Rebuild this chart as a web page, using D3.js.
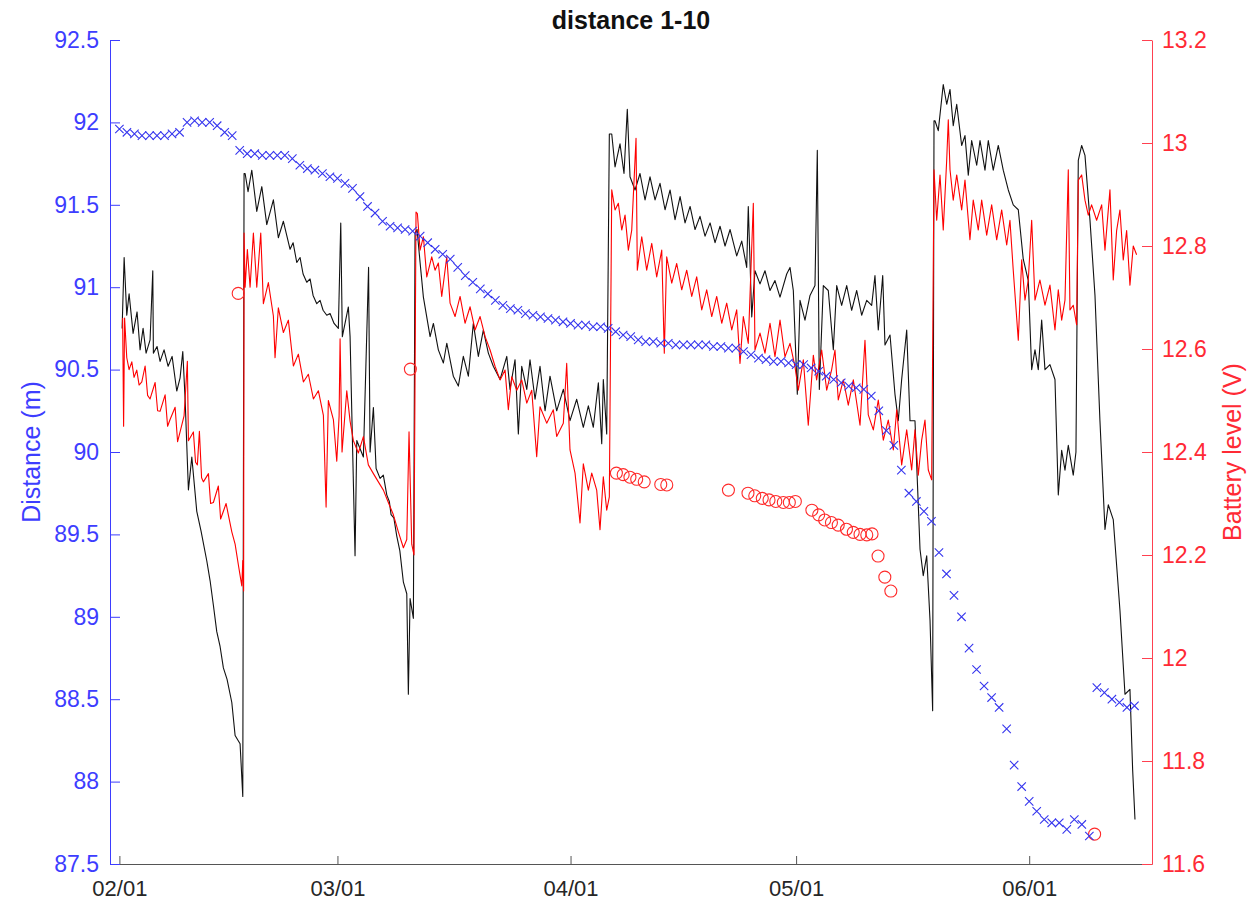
<!DOCTYPE html>
<html>
<head>
<meta charset="utf-8">
<script src="https://cdn.jsdelivr.net/npm/d3@7"></script>
<style>
  html, body { margin: 0; padding: 0; background: #ffffff; }
  svg { display: block; font-family: "Liberation Sans", Arial, Helvetica, sans-serif; }
</style>
</head>
<body>
<svg id="chart" width="1255" height="905"></svg>
<script>
// ---- data -------------------------------------------------------------
// Times are days since 2020-02-01 00:00 UTC.
const startDay = Date.UTC(2020, 1, 1);

// Measured distance (m), high-rate record
const distanceTrace = [
  [0.36,90.75],[0.63,91.18],[0.98,90.83],[1.29,90.96],[1.82,90.72],[2.35,90.85],[2.75,90.62],[3.15,90.75],
  [3.55,90.60],[4.08,90.68],[4.44,91.10],[4.52,90.60],[5.01,90.64],[5.41,90.55],[5.94,90.62],[6.48,90.52],
  [7.01,90.58],[7.63,90.37],[8.07,90.45],[8.43,90.61],[8.74,90.32],[9.18,89.77],[9.63,89.97],[10.29,89.64],
  [10.86,89.52],[11.62,89.34],[12.06,89.22],[12.50,89.07],[12.95,88.91],[13.39,88.82],[13.83,88.69],[14.32,88.62],
  [14.95,88.48],[15.39,88.28],[16.05,88.23],[16.41,87.91],[16.58,91.69],
  [16.72,91.69],[17.11,91.58],[17.61,91.71],[18.27,91.46],[18.94,91.61],[19.60,91.38],[20.48,91.53],[21.14,91.30],
  [21.81,91.40],[22.70,91.23],[23.10,91.27],[23.59,91.15],[24.03,91.18],[24.43,91.08],[24.92,91.03],[25.36,91.05],
  [25.76,90.95],[26.25,90.90],[26.69,90.92],[27.09,90.86],[27.58,90.83],[28.02,90.84],[28.55,90.78],[29.12,90.75],
  [29.44,91.39],[29.65,90.70],[30.45,90.88],[30.68,90.70],[31.34,89.37],[31.57,90.07],[32.45,89.97],[33.14,91.12],
  [33.34,90.00],[33.78,90.27],[34.14,89.90],[34.67,89.84],[35.10,89.86],[35.56,89.74],[35.90,89.70],[36.13,89.62],
  [36.50,89.60],[36.89,89.49],[37.30,89.40],[37.77,89.21],[38.22,89.14],[38.43,88.53],[38.66,89.11],[39.10,88.99],
  [39.32,91.33],
  [39.59,91.35],[39.99,91.15],[40.43,90.94],[41.32,90.70],[41.76,90.78],[42.42,90.62],[43.09,90.54],[43.54,90.66],
  [44.41,90.46],[45.08,90.40],[45.74,90.58],[46.41,90.46],[47.07,90.78],[47.74,90.58],[48.40,90.74],[49.07,90.60],
  [49.73,90.52],[50.63,90.44],[51.52,90.58],[51.95,90.38],[52.62,90.56],[53.06,90.11],[53.51,90.52],[54.18,90.38],
  [54.61,90.56],[55.28,90.32],[55.94,90.52],[56.61,90.25],[57.27,90.46],[58.16,90.25],[59.04,90.38],[59.93,90.19],
  [60.82,90.32],[61.70,90.15],[62.37,90.28],[63.03,90.15],[63.70,90.42],[64.15,90.05],[64.36,90.44],[64.81,90.11],
  [65.16,91.93],
  [65.48,91.93],[65.92,91.73],[66.58,91.87],[67.11,91.69],[67.55,92.08],[67.91,91.67],[68.58,91.59],[69.24,91.69],
  [69.91,91.53],[70.57,91.67],[71.24,91.53],[71.90,91.63],[72.57,91.47],[73.24,91.59],[73.90,91.41],[74.57,91.55],
  [75.23,91.39],[75.90,91.49],[76.56,91.35],[77.22,91.43],[77.89,91.31],[78.56,91.39],[79.22,91.27],[79.88,91.37],
  [80.55,91.25],[81.22,91.35],[82.10,91.19],[82.77,91.28],[83.43,91.12],[83.64,91.49],[84.10,90.82],[84.53,91.10],
  [85.20,91.02],[85.86,91.10],[86.53,90.98],[87.19,91.04],[87.86,90.94],[88.75,91.08],[89.19,91.12],[89.63,90.98],
  [90.16,90.35],[90.52,90.92],[91.18,90.80],[91.85,90.95],[92.51,91.01],[92.82,91.83],[93.09,90.38],[93.62,91.01],
  [94.28,90.98],[94.95,90.62],[95.40,91.01],[96.06,90.89],[96.73,91.01],[97.39,90.86],[98.06,90.98],[98.72,90.83],
  [99.39,90.92],[100.05,90.89],[100.49,91.07],[100.93,90.74],[101.52,91.07],[101.82,90.65],[102.49,90.71],[103.15,90.35],
  [103.59,90.19],[104.04,90.44],[104.71,90.74],[105.15,90.19],[105.81,90.19],[106.48,89.41],[106.91,89.25],[107.37,89.37],
  [107.81,88.98],[108.16,88.43],[108.34,92.01],
  [108.47,92.01],[108.91,91.95],[109.57,92.23],[110.03,92.11],[110.47,92.20],[110.90,91.98],[111.36,92.11],[112.02,91.86],
  [112.46,91.92],[112.90,91.68],[113.35,91.89],[114.02,91.74],[114.46,91.89],[115.12,91.71],[115.56,91.89],[116.22,91.71],
  [116.89,91.86],[117.55,91.71],[118.22,91.59],[118.88,91.50],[119.55,91.47],[120.21,91.17],[120.88,91.04],[121.33,90.50],
  [121.77,90.62],[122.21,90.50],[122.66,90.80],[123.10,90.50],[123.76,90.53],[124.43,90.44],[124.87,89.74],[125.32,90.01],
  [125.76,89.89],[126.20,90.04],[126.86,89.86],[127.22,90.00],[127.53,91.77],[127.98,91.86],[128.42,91.80],[129.08,91.41],
  [129.75,90.95],[130.41,90.19],[131.08,89.53],[131.52,89.68],[132.18,89.59],[133.07,89.04],[133.74,88.53],[134.40,88.56],
  [134.76,88.07],[135.07,87.77]
];

// Battery voltage (V), high-rate record
const batteryTrace = [
  [0.43,12.66],[0.56,12.45],[0.69,12.66],[0.98,12.583],[1.29,12.56],[1.65,12.575],[1.95,12.545],[2.31,12.559],
  [2.62,12.53],[2.98,12.536],[3.42,12.567],[3.75,12.51],[4.08,12.503],[4.75,12.535],[5.08,12.48],[5.41,12.479],
  [6.08,12.511],[6.41,12.45],[6.74,12.463],[7.41,12.487],[7.74,12.42],[8.07,12.439],[8.60,12.47],[9.04,12.576],
  [9.18,12.422],[9.84,12.439],[10.13,12.38],[10.37,12.375],[10.64,12.44],[10.93,12.35],[11.17,12.342],[11.84,12.358],
  [12.13,12.30],[12.50,12.302],[13.16,12.334],[13.46,12.27],[13.83,12.285],[14.19,12.30],[14.49,12.278],[14.95,12.245],
  [15.39,12.221],[15.82,12.181],[16.28,12.14],[16.41,12.189],[16.52,12.13],[16.58,12.825],
  [16.72,12.72],[17.02,12.793],[17.38,12.72],[17.82,12.825],[18.27,12.72],[18.80,12.825],[19.15,12.688],[19.81,12.729],
  [20.48,12.664],[20.70,12.583],[21.14,12.68],[21.81,12.632],[22.47,12.656],[23.14,12.567],[23.80,12.59],[24.47,12.536],
  [25.13,12.551],[25.80,12.503],[26.46,12.519],[27.13,12.471],[27.49,12.293],[27.79,12.50],[28.46,12.463],[28.91,12.382],
  [29.22,12.47],[29.35,12.62],[29.61,12.40],[30.24,12.519],[30.68,12.46],[31.12,12.422],[31.78,12.398],[32.45,12.43],
  [33.11,12.375],[33.78,12.358],[34.44,12.342],[35.11,12.326],[35.77,12.302],[36.44,12.278],[37.10,12.245],[37.77,12.214],
  [38.22,12.23],[38.52,12.439],[38.88,12.221],[39.18,12.20],[39.45,12.866],
  [39.63,12.863],[39.99,12.792],[40.43,12.818],[40.88,12.74],[41.54,12.779],[41.98,12.753],[42.42,12.767],[42.87,12.702],
  [43.54,12.779],[43.98,12.689],[44.64,12.663],[45.31,12.702],[45.97,12.65],[46.64,12.682],[47.30,12.637],[47.97,12.663],
  [48.64,12.624],[49.30,12.598],[49.97,12.566],[50.63,12.54],[51.29,12.559],[51.73,12.482],[52.18,12.546],[52.85,12.52],
  [53.51,12.54],[54.18,12.495],[54.84,12.52],[55.50,12.391],[55.94,12.488],[56.83,12.456],[57.71,12.482],[58.16,12.43],
  [59.04,12.456],[59.49,12.572],[59.93,12.404],[60.60,12.359],[61.26,12.262],[61.70,12.377],[62.37,12.326],[62.82,12.359],
  [63.48,12.326],[63.92,12.249],[64.36,12.352],[64.81,12.287],[65.16,12.313],[65.48,12.909],
  [65.92,12.87],[66.36,12.883],[66.81,12.831],[67.25,12.86],[67.69,12.792],[68.14,12.831],[68.71,13.009],[68.88,12.753],
  [69.47,12.818],[70.13,12.753],[70.80,12.805],[71.46,12.74],[72.13,12.792],[72.47,12.592],[72.79,12.779],[73.46,12.728],
  [74.12,12.766],[74.79,12.715],[75.45,12.753],[76.12,12.702],[76.78,12.74],[77.45,12.676],[78.11,12.715],[78.78,12.663],
  [79.44,12.702],[80.11,12.65],[80.77,12.689],[81.44,12.637],[82.10,12.676],[82.54,12.572],[82.98,12.663],[83.64,12.611],
  [84.31,12.883],[84.53,12.598],[85.20,12.631],[85.86,12.592],[86.53,12.65],[87.19,12.585],[87.86,12.656],[88.52,12.585],
  [89.19,12.611],[89.85,12.566],[90.29,12.52],[90.96,12.579],[91.62,12.452],[92.29,12.588],[92.73,12.54],[93.40,12.598],
  [94.07,12.52],[94.73,12.56],[95.17,12.598],[95.61,12.501],[96.28,12.54],[96.94,12.491],[97.61,12.54],[98.50,12.452],
  [99.16,12.617],[99.60,12.472],[100.27,12.443],[100.93,12.501],[101.60,12.423],[102.26,12.462],[102.93,12.404],[103.38,12.482],
  [104.04,12.375],[104.71,12.443],[105.37,12.365],[105.81,12.443],[106.25,12.355],[106.70,12.423],[107.14,12.462],[107.58,12.365],
  [108.03,12.346],[108.34,12.948],
  [108.70,12.85],[109.14,12.938],[109.57,12.831],[110.03,12.967],[110.24,13.045],[110.47,12.948],[110.90,12.889],[111.36,12.938],
  [112.02,12.87],[112.46,12.928],[113.12,12.812],[113.56,12.889],[114.23,12.831],[114.68,12.889],[115.35,12.821],[116.01,12.88],
  [116.68,12.812],[117.34,12.87],[118.01,12.802],[118.44,12.85],[118.88,12.753],[119.55,12.617],[120.00,12.773],[120.44,12.695],
  [120.88,12.734],[121.33,12.85],[121.77,12.695],[122.43,12.734],[123.10,12.685],[123.76,12.724],[124.43,12.637],[124.87,12.715],
  [125.32,12.656],[125.76,12.695],[126.20,12.948],[126.42,12.676],[126.86,12.685],[127.31,12.647],[127.53,12.928],[127.98,12.938],
  [128.42,12.889],[128.86,12.86],[129.30,12.88],[129.97,12.85],[130.64,12.88],[131.08,12.792],[131.74,12.909],[132.18,12.734],
  [132.63,12.83],[133.07,12.87],[133.51,12.773],[133.96,12.83],[134.40,12.724],[134.84,12.80],[135.29,12.783]
];

// Daily distance (m), one value per day from 02/01
const dailyDistance = [
  91.96,91.94,91.93,91.92,91.92,91.92,91.92,91.93,91.94,92.00,
  92.01,92.00,92.00,91.98,91.94,91.92,91.83,91.81,91.81,91.80,
  91.80,91.80,91.80,91.78,91.74,91.72,91.71,91.69,91.67,91.66,
  91.63,91.60,91.55,91.49,91.45,91.40,91.37,91.36,91.35,91.34,
  91.31,91.27,91.23,91.20,91.17,91.12,91.07,91.03,90.99,90.96,
  90.92,90.89,90.87,90.86,90.84,90.83,90.82,90.81,90.80,90.79,
  90.78,90.77,90.77,90.76,90.76,90.75,90.73,90.71,90.70,90.68,
  90.67,90.67,90.66,90.66,90.65,90.65,90.65,90.65,90.65,90.64,
  90.64,90.63,90.63,90.61,90.59,90.57,90.56,90.55,90.55,90.54,
  90.53,90.53,90.51,90.49,90.46,90.44,90.42,90.40,90.39,90.38,
  90.34,90.25,90.13,90.04,89.89,89.75,89.70,89.64,89.58,89.39,
  89.26,89.13,89.00,88.81,88.68,88.58,88.51,88.45,88.32,88.10,
  87.97,87.88,87.82,87.77,87.75,87.75,87.71,87.77,87.74,87.67,
  88.57,88.54,88.50,88.48,88.45,88.46
];

// Daily battery readings (V)
const dailyBattery = [
  [15.8,12.708],[38.7,12.561],[66.1,12.359],[67.0,12.356],[67.9,12.351],[68.8,12.347],[69.8,12.342],[72.0,12.337],
  [72.8,12.336],[81.0,12.326],[83.6,12.320],[84.5,12.315],[85.5,12.310],[86.4,12.307],[87.3,12.304],[88.3,12.302],
  [89.1,12.302],[89.9,12.304],[92.1,12.287],[93.0,12.278],[93.8,12.268],[94.7,12.263],[95.6,12.258],[96.7,12.250],
  [97.6,12.244],[98.5,12.240],[99.4,12.239],[100.1,12.241],[100.9,12.198],[101.8,12.157],[102.6,12.130],[129.7,11.658]
];

// Axis ticks
const distanceTicks = [87.5, 88, 88.5, 89, 89.5, 90, 90.5, 91, 91.5, 92, 92.5];
const batteryTicks = [11.6, 11.8, 12, 12.2, 12.4, 12.6, 12.8, 13, 13.2];
const dateTicks = ["2020-02-01", "2020-03-01", "2020-04-01", "2020-05-01", "2020-06-01"];

const titleText = "distance 1-10";
const leftLabel = "Distance (m)";
const rightLabel = "Battery level (V)";

// ---- drawing ----------------------------------------------------------
const blue = "#3d3dff";
const red = "#ff2a35";
const redAxis = "#ff4050";
const grey = "#262626";

const svg = d3.select("#chart");
const plot = { left: 110, right: 1152, top: 40, bottom: 864 };

const toDate = d => new Date(startDay + d * 864e5);

const x = d3.scaleUtc()
  .domain([new Date(Date.UTC(2020, 0, 30, 18)), new Date(Date.UTC(2020, 5, 17, 8))])
  .range([plot.left, plot.right]);
const yDist = d3.scaleLinear().domain([87.5, 92.5]).range([plot.bottom, plot.top]);
const yBatt = d3.scaleLinear().domain([11.6, 13.2]).range([plot.bottom, plot.top]);

// bottom axis
const xAxis = svg.append("g")
  .attr("transform", `translate(0,${plot.bottom})`)
  .call(d3.axisBottom(x)
    .tickValues(dateTicks.map(s => new Date(s + "T00:00:00Z")))
    .tickFormat(d3.utcFormat("%m/%d"))
    .tickSize(-8).tickSizeOuter(0).tickPadding(16));
xAxis.select(".domain").attr("stroke", "#555").attr("stroke-width", 1.2);
xAxis.selectAll(".tick line").attr("stroke", "#555");
xAxis.selectAll("text").attr("fill", grey).attr("font-size", 22);

// left axis
const lAxis = svg.append("g")
  .attr("transform", `translate(${plot.left},0)`)
  .call(d3.axisLeft(yDist).tickValues(distanceTicks).tickFormat(d => String(d))
    .tickSize(-10).tickSizeOuter(0).tickPadding(11));
lAxis.select(".domain").attr("stroke", blue).attr("stroke-width", 1);
lAxis.selectAll(".tick line").attr("stroke", blue);
lAxis.selectAll("text").attr("fill", blue).attr("font-size", 23);

// right axis
const rAxis = svg.append("g")
  .attr("transform", `translate(${plot.right},0)`)
  .call(d3.axisRight(yBatt).tickValues(batteryTicks).tickFormat(d => String(d))
    .tickSize(-10).tickSizeOuter(0).tickPadding(10));
rAxis.select(".domain").attr("stroke", redAxis).attr("stroke-width", 1);
rAxis.selectAll(".tick line").attr("stroke", redAxis);
rAxis.selectAll("text").attr("fill", red).attr("font-size", 23);

// series
const marks = svg.append("g");

marks.append("path")
  .datum(distanceTrace)
  .attr("fill", "none")
  .attr("stroke", "#111")
  .attr("stroke-width", 1.1)
  .attr("stroke-linejoin", "round")
  .attr("d", d3.line().x(d => x(toDate(d[0]))).y(d => yDist(d[1])));

marks.append("path")
  .datum(batteryTrace)
  .attr("fill", "none")
  .attr("stroke", "#ff0000")
  .attr("stroke-width", 1.1)
  .attr("stroke-linejoin", "round")
  .attr("d", d3.line().x(d => x(toDate(d[0]))).y(d => yBatt(d[1])));

marks.selectAll("circle.batt")
  .data(dailyBattery)
  .join("circle")
  .attr("class", "batt")
  .attr("cx", d => x(toDate(d[0])))
  .attr("cy", d => yBatt(d[1]))
  .attr("r", 6)
  .attr("fill", "none")
  .attr("stroke", "#ff2a2a")
  .attr("stroke-width", 1.1);

const cross = d3.path();
cross.moveTo(-4.2, -4.2); cross.lineTo(4.2, 4.2);
cross.moveTo(-4.2, 4.2); cross.lineTo(4.2, -4.2);

marks.selectAll("path.dist")
  .data(dailyDistance)
  .join("path")
  .attr("class", "dist")
  .attr("d", cross.toString())
  .attr("transform", (v, i) => `translate(${x(toDate(i))},${yDist(v)})`)
  .attr("fill", "none")
  .attr("stroke", "#3535ee")
  .attr("stroke-width", 1.1);

// labels
svg.append("text")
  .attr("x", (plot.left + plot.right) / 2)
  .attr("y", 29)
  .attr("text-anchor", "middle")
  .attr("font-size", 25)
  .attr("font-weight", "bold")
  .attr("fill", "#111")
  .text(titleText);

svg.append("text")
  .attr("transform", "translate(40,452) rotate(-90)")
  .attr("text-anchor", "middle")
  .attr("font-size", 25)
  .attr("fill", blue)
  .text(leftLabel);

svg.append("text")
  .attr("transform", "translate(1241,452) rotate(-90)")
  .attr("text-anchor", "middle")
  .attr("font-size", 25)
  .attr("fill", red)
  .text(rightLabel);
</script>
</body>
</html>
